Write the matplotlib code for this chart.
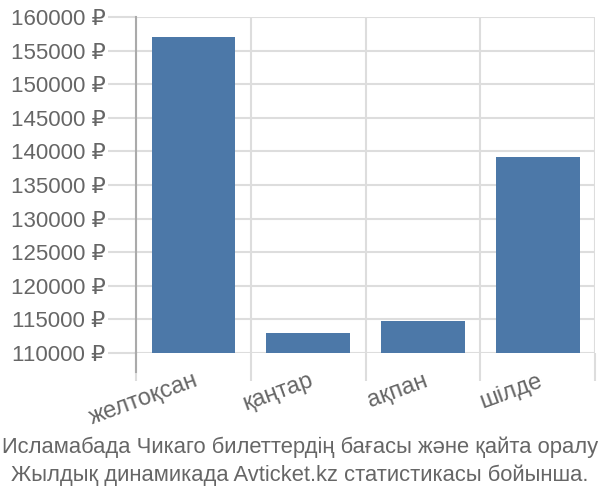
import numpy as np
import matplotlib.pyplot as plt

plt.rcParams['font.family'] = ['Liberation Sans', 'DejaVu Sans']

# data
months = ['желтоқсан', 'қаңтар', 'ақпан', 'шілде']
prices = [157000, 112950, 114750, 139100]
yticks = np.arange(110000, 160001, 5000)
title_lines = ['Исламабада Чикаго билеттердің бағасы және қайта оралу',
               'Жылдық динамикада Avticket.kz статистикасы бойынша.']

fig = plt.figure(figsize=(6, 5), dpi=100)
ax = fig.add_axes([0.227, 0.294, 0.765, 0.672])

x = np.arange(len(months))
ax.bar(x, prices, width=0.73, color='#4c78a8', zorder=3)

ax.set_xlim(-0.5, len(months) - 0.5)
ax.set_ylim(110000, 160000)
ax.set_yticks(yticks)
ax.set_yticklabels(['%d ₽' % v for v in yticks])
ax.set_xticks(x)
ax.set_xticklabels(months, rotation=20, ha='right', rotation_mode='anchor')
ax.set_xticks(np.arange(-0.5, len(months)), minor=True)

grid_c = '#dddddd'
ax.grid(axis='y', color=grid_c, linewidth=1.5, zorder=0)
ax.grid(axis='x', which='minor', color=grid_c, linewidth=1.5, zorder=0)
ax.tick_params(axis='y', length=20, color=grid_c, width=1.5, labelsize=16, labelcolor='#666666', pad=2)
ax.tick_params(axis='x', which='minor', length=20, color=grid_c, width=1.5)
ax.tick_params(axis='x', which='major', length=0, labelsize=17, labelcolor='#666666', pad=12)

for s in ['top', 'right', 'bottom']:
    ax.spines[s].set_visible(False)
ax.spines['left'].set_color('#aaaaaa')
ax.spines['left'].set_linewidth(1.5)
ax.plot([0, 0], [0, -0.056], transform=ax.transAxes, color='#aaaaaa', lw=1.5, clip_on=False)

fig.text(0.5, 0.106, title_lines[0], ha='center', va='center', fontsize=15.8, color='#666666')
fig.text(0.5, 0.05, title_lines[1], ha='center', va='center', fontsize=15.8, color='#666666')

plt.savefig('out.png', dpi=100)
plt.close()
